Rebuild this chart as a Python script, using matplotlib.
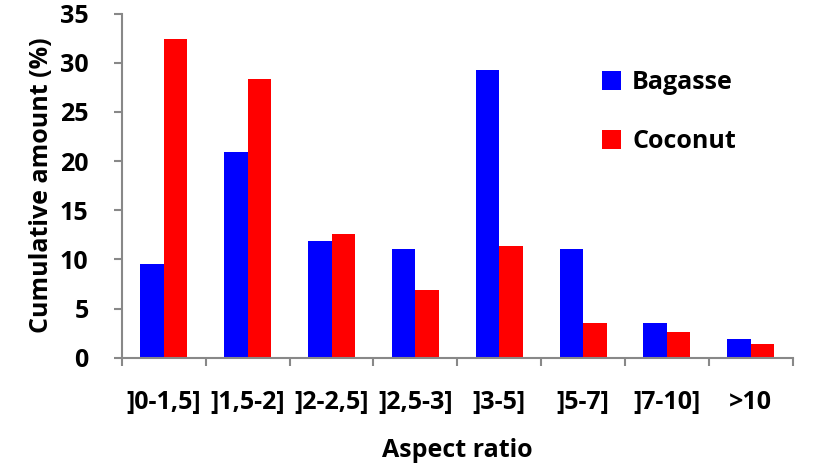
import matplotlib
matplotlib.use("Agg")
import matplotlib.pyplot as plt
import numpy as np

categories = ["]0-1,5]", "]1,5-2]", "]2-2,5]", "]2,5-3]", "]3-5]", "]5-7]", "]7-10]", ">10"]
bagasse = [9.5, 20.9, 11.9, 11.1, 29.3, 11.1, 3.5, 1.9]
coconut = [32.4, 28.3, 12.6, 6.9, 11.4, 3.5, 2.6, 1.4]
yticks = [0, 5, 10, 15, 20, 25, 30, 35]

plt.rcParams['font.family'] = ['Open Sans', 'DejaVu Sans']
plt.rcParams['font.weight'] = 'bold'
FS = 18

fig = plt.figure(figsize=(8.13, 4.66), dpi=100)
ax = fig.add_axes([0.150, 0.2324, 0.825, 0.7386])

x = np.arange(len(categories))
w = 0.28
ax.bar(x - w/2, bagasse, width=w, color='#0000ff', label='Bagasse')
ax.bar(x + w/2, coconut, width=w, color='#ff0000', label='Coconut')

ax.set_xlim(-0.5, len(categories) - 0.5)
ax.set_ylim(0, 35)
ax.set_yticks(yticks)
ax.set_yticklabels([str(v) for v in yticks], fontsize=FS, fontweight='bold')

ax.set_xticks(x)
ax.set_xticklabels(categories, fontsize=FS, fontweight='bold')
ax.tick_params(axis='x', length=0, pad=23)
ax.set_xticks(np.arange(len(categories) + 1) - 0.5, minor=True)
ax.tick_params(axis='x', which='minor', length=6, width=1.5, color='#888888', direction='out')
ax.tick_params(axis='y', length=6, width=1.5, color='#888888', direction='out', pad=18)

for s in ['top', 'right']:
    ax.spines[s].set_visible(False)
for s in ['left', 'bottom']:
    ax.spines[s].set_color('#888888')
    ax.spines[s].set_linewidth(1.5)

ax.set_xlabel('Aspect ratio', fontsize=FS, fontweight='bold', labelpad=17)
ax.set_ylabel('Cumulative amount (%)', fontsize=FS, fontweight='bold', labelpad=4)

leg = fig.legend(loc='upper left', bbox_to_anchor=(602/813, 1 - 70/466), frameon=False,
                 fontsize=FS, handlelength=0.76, handleheight=0.76, labelspacing=1.36,
                 handletextpad=0.45, borderpad=0, borderaxespad=0)
for t in leg.get_texts():
    t.set_fontweight('bold')

fig.savefig('out.png', dpi=100)
